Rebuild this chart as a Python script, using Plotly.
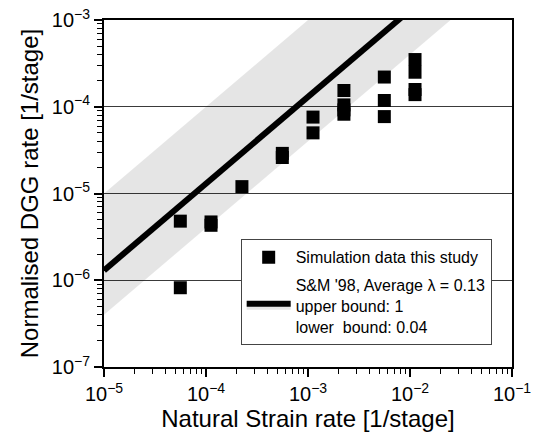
import math
import plotly.graph_objects as go

# ---- data ----
strain_rate = [5.6e-5, 5.6e-5, 1.12e-4, 1.12e-4, 2.25e-4, 5.6e-4, 5.6e-4,
               1.12e-3, 1.12e-3, 2.25e-3, 2.25e-3, 2.25e-3, 2.25e-3,
               5.6e-3, 5.6e-3, 5.6e-3, 1.12e-2, 1.12e-2, 1.12e-2, 1.12e-2]
dgg_rate = [4.8e-6, 8.2e-7, 4.7e-6, 4.3e-6, 1.2e-5, 2.9e-5, 2.6e-5,
            7.6e-5, 5.0e-5, 1.54e-4, 1.05e-4, 9.2e-5, 8.2e-5,
            2.2e-4, 1.18e-4, 7.7e-5, 3.5e-4, 2.5e-4, 1.58e-4, 1.38e-4]

lambda_avg = 0.13
lambda_upper = 1.0
lambda_lower = 0.04

x_exponents = [-5, -4, -3, -2, -1]
y_exponents = [-7, -6, -5, -4, -3]
minor_digits = [2, 3, 4, 5, 6, 7, 8, 9]

x_range_vals = [10.0 ** x_exponents[0], 10.0 ** x_exponents[-1]]
y_range_vals = [10.0 ** y_exponents[0], 10.0 ** y_exponents[-1]]


def major_vals(exps):
    return [10.0 ** e for e in exps]


def major_text(exps):
    return ["10<sup>\u2212%d</sup>" % (-e) for e in exps]


def minor_vals(exps):
    out = []
    for e in exps[:-1]:
        out += [d * 10.0 ** e for d in minor_digits]
    return out


FONT = "Liberation Sans, Arial, Helvetica, sans-serif"
BAND = "rgba(0,0,0,0.10)"

fig = go.Figure()

fig.add_trace(go.Scatter(
    x=x_range_vals, y=[lambda_lower * v for v in x_range_vals],
    mode="lines", line=dict(width=0, color=BAND),
    showlegend=False, hoverinfo="skip"))
fig.add_trace(go.Scatter(
    x=x_range_vals, y=[lambda_avg * v for v in x_range_vals],
    mode="lines", line=dict(width=6, color="black"),
    fill="tonexty", fillcolor=BAND,
    name="S&M '98, Average λ = 0.13<br>upper bound: 1<br>lower\u00a0\u00a0bound: 0.04",
    legendgroup="b", legendrank=2))
fig.add_trace(go.Scatter(
    x=x_range_vals, y=[lambda_upper * v for v in x_range_vals],
    mode="lines", line=dict(width=0, color=BAND),
    fill="tonexty", fillcolor=BAND,
    showlegend=False, hoverinfo="skip"))
fig.add_trace(go.Scatter(
    x=strain_rate, y=dgg_rate, mode="markers",
    marker=dict(symbol="square", size=13, color="black"),
    name="Simulation data this study",
    legendgroup="a", legendrank=1))

axis_common = dict(
    type="log", showline=True, linecolor="black", linewidth=2, mirror=True,
    ticks="outside", ticklen=8, tickwidth=1.5, tickcolor="black",
    tickmode="array",
    tickfont=dict(family=FONT, size=20, color="black"),
    zeroline=False,
)

fig.update_xaxes(**axis_common,
                 range=[x_exponents[0], x_exponents[-1]], showgrid=False,
                 tickvals=major_vals(x_exponents), ticktext=major_text(x_exponents),
                 minor=dict(ticks="outside", ticklen=5, tickwidth=1.2,
                            tickcolor="black", showgrid=False,
                            tickmode="array", tickvals=minor_vals(x_exponents)),
                 title=dict(text="Natural Strain rate [1/stage]",
                            font=dict(family=FONT, size=24, color="black"),
                            standoff=4))
fig.update_yaxes(**axis_common,
                 range=[y_exponents[0], y_exponents[-1]], showgrid=True,
                 gridcolor="#3a3a3a", gridwidth=1.2,
                 tickvals=major_vals(y_exponents), ticktext=major_text(y_exponents),
                 minor=dict(ticks="outside", ticklen=5, tickwidth=1.2,
                            tickcolor="black", showgrid=False,
                            tickmode="array", tickvals=minor_vals(y_exponents)),
                 title=dict(text="Normalised DGG rate [1/stage]",
                            font=dict(family=FONT, size=24, color="black"),
                            standoff=6))

fig.update_layout(
    width=542, height=437,
    margin=dict(l=104, r=30, t=20, b=70, autoexpand=False),
    paper_bgcolor="white", plot_bgcolor="white",
    font=dict(family=FONT, color="black"),
    legend=dict(
        x=0.335, y=0.368, xanchor="left", yanchor="top",
        bgcolor="white", bordercolor="#444444", borderwidth=1,
        font=dict(family=FONT, size=16, color="black"),
        traceorder="grouped", tracegroupgap=4,
        itemsizing="trace", itemwidth=44,
    ),
)

fig.write_html("out.html")
